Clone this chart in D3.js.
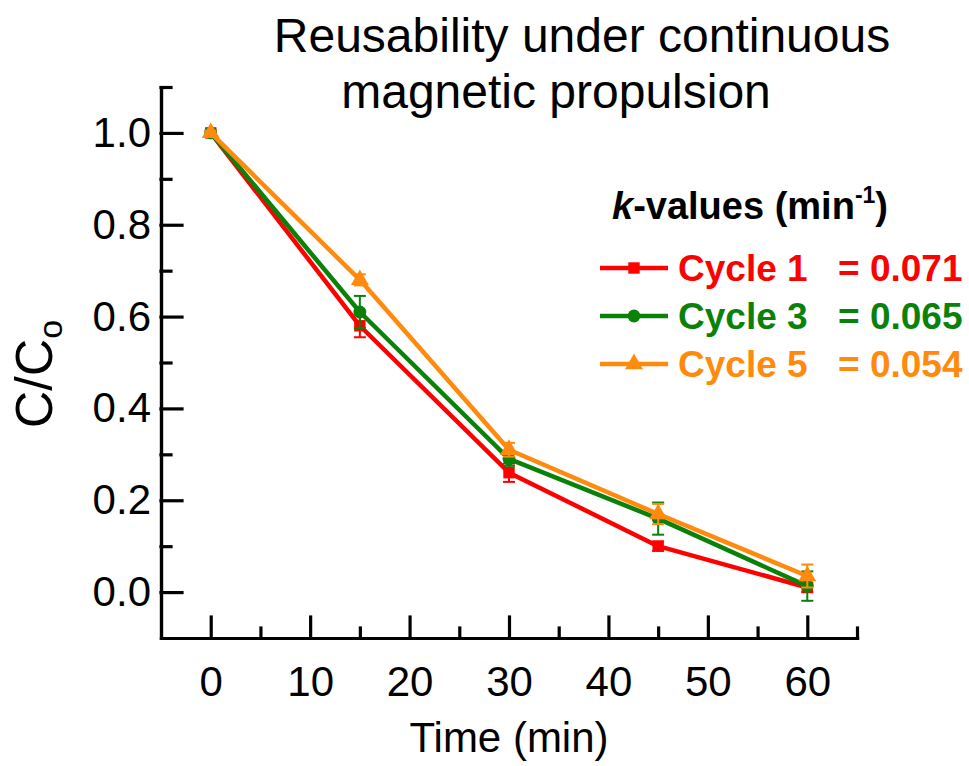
<!DOCTYPE html>
<html>
<head>
<meta charset="utf-8">
<script src="https://cdn.jsdelivr.net/npm/d3@7"></script>
<style>
  body { margin: 0; background: #fff; }
  text { font-family: Arial, "Liberation Sans", sans-serif; }
</style>
</head>
<body>
<svg width="969" height="766"></svg>
<script>
// time points (min)
var times = [0, 15, 30, 45, 60]

// C/Co per cycle
var cycle1 = [1.0, 0.58, 0.26, 0.10, 0.01]
var cycle3 = [1.0, 0.61, 0.29, 0.16, 0.013]
var cycle5 = [1.0, 0.68, 0.31, 0.17, 0.035]

// error bar half-heights
var err1 = [0.005, 0.025, 0.02, 0.01, 0.01]
var err3 = [0.005, 0.035, 0.015, 0.035, 0.032]
var err5 = [0.005, 0.012, 0.015, 0.022, 0.025]

var seriesNames = ['Cycle 1', 'Cycle 3', 'Cycle 5']
var kValues = ['0.071', '0.065', '0.054']
var colours = ['#FF0000', '#0A820A', '#FF8A0E']
var symbols = [d3.symbolSquare, d3.symbolCircle, d3.symbolTriangle]

var xTicks = [0, 10, 20, 30, 40, 50, 60]
var yTicks = [0.0, 0.2, 0.4, 0.6, 0.8, 1.0]

var svg = d3.select('svg')

var x = d3.scaleLinear().domain([-5, 65]).range([161, 857])
var y = d3.scaleLinear().domain([-0.1, 1.1]).range([638, 87])

var series = [cycle1, cycle3, cycle5].map(function (vals, i) {
  return {
    name: seriesNames[i],
    k: kValues[i],
    colour: colours[i],
    symbol: symbols[i],
    points: vals.map(function (v, j) { return { t: times[j], v: v, e: [err1, err3, err5][i][j] } })
  }
})

// minor ticks first, then major ticks with labels
var gx = svg.append('g').attr('transform', 'translate(0,' + y(-0.1) + ')')
gx.call(d3.axisBottom(x).tickValues([5, 15, 25, 35, 45, 55, 65]).tickSize(-10).tickSizeOuter(0).tickFormat(''))
gx.append('g').call(d3.axisBottom(x).tickValues(xTicks).tickSize(-21).tickSizeOuter(0).tickPadding(28).tickFormat(d3.format('d')))

var gy = svg.append('g').attr('transform', 'translate(' + x(-5) + ',0)')
gy.call(d3.axisLeft(y).tickValues([0.1, 0.3, 0.5, 0.7, 0.9, 1.1]).tickSize(-10).tickSizeOuter(0).tickFormat(''))
gy.append('g').call(d3.axisLeft(y).tickValues(yTicks).tickSize(-21).tickSizeOuter(0).tickPadding(10).tickFormat(d3.format('.1f')))

svg.selectAll('.domain, .tick line')
  .attr('stroke', '#000')
  .attr('stroke-width', 3.2)
  .attr('stroke-linecap', 'square')
svg.selectAll('.tick text')
  .attr('font-size', 42)
  .attr('fill', '#000')
  .style('font-family', 'Arial, "Liberation Sans", sans-serif')

// axis titles
svg.append('text')
  .attr('x', 509)
  .attr('y', 752)
  .attr('text-anchor', 'middle')
  .attr('font-size', 42)
  .text('Time (min)')

var yl = svg.append('text')
  .attr('transform', 'translate(52,374) rotate(-90)')
  .attr('text-anchor', 'middle')
  .attr('font-size', 52)
yl.append('tspan').text('C/C')
yl.append('tspan').attr('font-size', 34).attr('dy', 10).text('o')

// title
svg.append('text').attr('x', 582).attr('y', 52).attr('text-anchor', 'middle').attr('font-size', 48).text('Reusability under continuous')
svg.append('text').attr('x', 556).attr('y', 108).attr('text-anchor', 'middle').attr('font-size', 48).text('magnetic propulsion')

var line = d3.line().x(function (d) { return x(d.t) }).y(function (d) { return y(d.v) })

// lines, drawn cycle 1 first so cycle 5 sits on top
series.forEach(function (s) {
  var g = svg.append('g')
  g.append('path')
    .datum(s.points)
    .attr('d', line)
    .attr('fill', 'none')
    .attr('stroke', s.colour)
    .attr('stroke-width', 4.5)
    .attr('stroke-linejoin', 'round')

  var eb = g.selectAll('.eb').data(s.points).enter().append('g')
  eb.append('line')
    .attr('x1', function (d) { return x(d.t) }).attr('x2', function (d) { return x(d.t) })
    .attr('y1', function (d) { return y(d.v - d.e) }).attr('y2', function (d) { return y(d.v + d.e) })
  eb.append('line')
    .attr('x1', function (d) { return x(d.t) - 6 }).attr('x2', function (d) { return x(d.t) + 6 })
    .attr('y1', function (d) { return y(d.v - d.e) }).attr('y2', function (d) { return y(d.v - d.e) })
  eb.append('line')
    .attr('x1', function (d) { return x(d.t) - 6 }).attr('x2', function (d) { return x(d.t) + 6 })
    .attr('y1', function (d) { return y(d.v + d.e) }).attr('y2', function (d) { return y(d.v + d.e) })
  eb.selectAll('line').attr('stroke', s.colour).attr('stroke-width', 2)

  g.selectAll('.mk').data(s.points).enter().append('path')
    .attr('transform', function (d) { return 'translate(' + x(d.t) + ',' + y(d.v) + ')' })
    .attr('d', d3.symbol().type(s.symbol).size(s.symbol === d3.symbolTriangle ? 140 : 130))
    .attr('fill', s.colour)
})

// legend
var lg = svg.append('g')
var kt = lg.append('text').attr('x', 612).attr('y', 219).attr('font-size', 38).attr('font-weight', 'bold')
kt.append('tspan').attr('font-style', 'italic').text('k')
kt.append('tspan').text('-values (min')
kt.append('tspan').attr('font-size', 23).attr('dy', -16).text('-1')
kt.append('tspan').attr('dy', 16).text(')')

series.forEach(function (s, i) {
  var cy = 268 + i * 48
  lg.append('line').attr('x1', 600).attr('x2', 668).attr('y1', cy).attr('y2', cy)
    .attr('stroke', s.colour).attr('stroke-width', 4.5)
  lg.append('path').attr('transform', 'translate(634,' + cy + ')')
    .attr('d', d3.symbol().type(s.symbol).size(s.symbol === d3.symbolTriangle ? 140 : 130))
    .attr('fill', s.colour)
  lg.append('text').attr('x', 678).attr('y', cy + 13).attr('font-size', 37).attr('font-weight', 'bold')
    .attr('fill', s.colour).text(s.name)
  lg.append('text').attr('x', 838).attr('y', cy + 13).attr('font-size', 37).attr('font-weight', 'bold')
    .attr('fill', s.colour).text('= ' + s.k)
})
</script>
</body>
</html>
